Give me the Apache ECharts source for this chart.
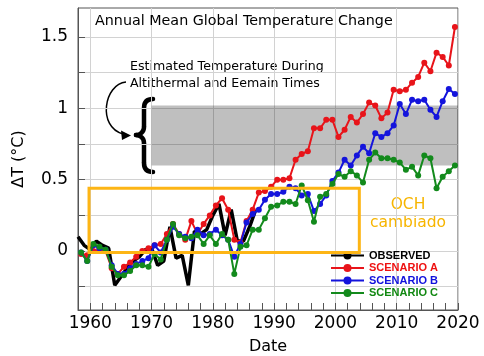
<!DOCTYPE html>
<html><head><meta charset="utf-8">
<script src="https://cdn.jsdelivr.net/npm/echarts@6/dist/echarts.min.js"></script>
<style>html,body{margin:0;padding:0;background:#fff}#c{width:484px;height:356px}</style>
</head><body><div id="c"></div>
<script>
// ---- data ----
const scenYears = [1958,1959,1960,1961,1962,1963,1964,1965,1966,1967,1968,1969,1970,1971,1972,1973,1974,1975,1976,1977,1978,1979,1980,1981,1982,1983,1984,1985,1986,1987,1988,1989,1990,1991,1992,1993,1994,1995,1996,1997,1998,1999,2000,2001,2002,2003,2004,2005,2006,2007,2008,2009,2010,2011,2012,2013,2014,2015,2016,2017,2018,2019];
const scenarioA = [-0.02,-0.03,0.00,0.01,0.00,-0.12,-0.16,-0.11,-0.08,-0.04,0.00,0.02,0.04,0.05,0.12,0.19,0.12,0.08,0.21,0.12,0.19,0.25,0.32,0.37,0.29,0.08,0.06,0.21,0.29,0.41,0.42,0.45,0.50,0.50,0.51,0.64,0.68,0.70,0.86,0.86,0.92,0.92,0.80,0.85,0.94,0.90,0.96,1.04,1.02,0.93,0.97,1.13,1.12,1.13,1.18,1.22,1.32,1.26,1.39,1.36,1.30,1.57];
const scenarioB = [-0.01,-0.07,0.04,0.02,0.01,-0.10,-0.16,-0.16,-0.12,-0.09,-0.07,-0.05,0.04,-0.01,0.08,0.17,0.12,0.10,0.09,0.15,0.11,0.12,0.15,0.11,0.08,-0.04,0.05,0.20,0.26,0.29,0.36,0.40,0.40,0.415,0.45,0.44,0.39,0.40,0.28,0.33,0.39,0.49,0.55,0.64,0.60,0.67,0.73,0.685,0.825,0.80,0.825,0.88,1.03,0.96,1.06,1.05,1.06,0.99,0.94,1.05,1.135,1.10];
const scenarioC = [-0.01,-0.07,0.05,0.03,0.01,-0.11,-0.17,-0.17,-0.14,-0.10,-0.10,-0.11,-0.02,-0.06,0.08,0.19,0.11,0.09,0.10,0.11,0.05,0.11,0.05,0.12,0.08,-0.16,0.03,0.04,0.15,0.15,0.23,0.31,0.32,0.345,0.345,0.33,0.46,0.356,0.205,0.38,0.40,0.47,0.54,0.52,0.56,0.53,0.48,0.64,0.69,0.65,0.65,0.64,0.62,0.57,0.59,0.53,0.67,0.65,0.44,0.52,0.56,0.60];
const obsYears = [1958,1959,1960,1961,1962,1963,1964,1965,1966,1967,1968,1969,1970,1971,1972,1973,1974,1975,1976,1977,1978,1979,1980,1981,1982,1983,1984,1985,1986,1987];
const observed = [0.10,0.04,0.01,0.07,0.04,0.02,-0.24,-0.18,-0.12,-0.07,-0.04,0.01,0.02,-0.10,-0.07,0.17,-0.05,-0.03,-0.24,0.14,0.12,0.15,0.25,0.33,0.11,0.29,0.07,0.07,0.17,0.29];
const xLabels = [1960,1970,1980,1990,2000,2010,2020];
const xTicks = [1960,1962,1964,1966,1968,1970,1972,1974,1976,1978,1980,1982,1984,1986,1988,1990,1992,1994,1996,1998,2000,2002,2004,2006,2008,2010,2012,2014,2016,2018,2020];
const yLabels = [0,0.5,1,1.5];
const yTicks = [-0.25,0,0.25,0.5,0.75,1,1.25,1.5];
const bandX = [1970,2020];      // estimated Altithermal/Eemian range
const bandY = [0.6,1.02];
const boxX = [1959.8,2003.9];   // OCH box
const boxY = [-0.01,0.44];
const seriesNames = ['OBSERVED','SCENARIO A','SCENARIO B','SCENARIO C'];
const seriesColors = ['#000000','#e8141a','#1414dc','#138a1c'];
const legendColors = ['#000000','#ee1111','#1111dd','#118811'];

// ---- chart ----
const FONT = 'DejaVu Sans';
const chart = echarts.init(document.getElementById('c'), null, {renderer:'canvas'});
const scen = (vals) => scenYears.map((y,i)=>[y+0.5, vals[i]]);
const scenSeries = (idx, vals) => ({
  name: seriesNames[idx], type:'line', data: scen(vals), xAxisIndex:0,
  symbol:'circle', symbolSize:6, showSymbol:true,
  lineStyle:{color:seriesColors[idx], width:2},
  itemStyle:{color:seriesColors[idx]},
  emphasis:{disabled:true}, z: 2 + idx
});
const option = {
  animation:false,
  backgroundColor:'#ffffff',
  title:{text:'Annual Mean Global Temperature Change', left:95, top:14, padding:0,
    textStyle:{fontFamily:FONT, fontSize:14.3, fontWeight:'normal', color:'#000'}},
  grid:{left:78, right:26, top:8, bottom:46, containLabel:false, outerBoundsMode:'none',
    show:true, borderColor:'#555', borderWidth:1, backgroundColor:'rgba(0,0,0,0)'},
  legend:{orient:'vertical', left:330, top:250, padding:0, itemWidth:33, itemHeight:10, itemGap:1.5,
    selectedMode:false,
    textStyle:{fontFamily:'Liberation Sans', fontWeight:'bold', fontSize:11},
    data: seriesNames.map((n,i)=>({name:n, textStyle:{color:legendColors[i]}}))},
  xAxis:[{
    type:'value', min:1958, max:2020,
    name:'Date', nameLocation:'middle', nameGap:29,
    nameTextStyle:{fontFamily:FONT, fontSize:16, color:'#000'},
    axisLine:{show:true, onZero:false, lineStyle:{color:'#555', width:1}},
    axisTick:{show:true, inside:true, length:7, customValues:xTicks, lineStyle:{color:'#555'}},
    axisLabel:{customValues:xLabels, formatter:(v)=>String(v), fontFamily:FONT, fontSize:17, color:'#000', margin:5},
    splitLine:{show:false}
  },{
    type:'value', min:1958, max:2020, position:'top',
    axisLine:{show:false}, axisTick:{show:false, customValues:xLabels}, axisLabel:{show:false},
    splitLine:{show:true, lineStyle:{color:'#d2d2d2', width:1}}
  }],
  yAxis:{
    type:'value', min:-0.413, max:1.703,
    name:'ΔT (°C)', nameLocation:'middle', nameGap:51,
    nameTextStyle:{fontFamily:FONT, fontSize:16, color:'#000'},
    axisLine:{show:true, onZero:false, lineStyle:{color:'#555', width:1}},
    axisTick:{show:true, inside:true, length:7, customValues:yTicks, lineStyle:{color:'#555'}},
    axisLabel:{customValues:yLabels, formatter:(v)=>String(v), fontFamily:FONT, fontSize:17, color:'#000', margin:10},
    splitLine:{show:true, lineStyle:{color:'#d2d2d2', width:1}}
  },
  series:[
    {name:'band', type:'line', data:[], xAxisIndex:0, silent:true,
      markArea:{silent:true, itemStyle:{color:'rgba(0,0,0,0.25)'},
        data:[[{xAxis:bandX[0], yAxis:bandY[1]},{xAxis:bandX[1], yAxis:bandY[0]}]]}},
    {name:seriesNames[0], type:'line', data: obsYears.map((y,i)=>[y, observed[i]]), xAxisIndex:0,
      symbol:'none', showSymbol:false, lineStyle:{color:'#000', width:3.5}, itemStyle:{color:'#000'},
      emphasis:{disabled:true}, z:2},
    scenSeries(1, scenarioA),
    scenSeries(2, scenarioB),
    scenSeries(3, scenarioC),
    {name:'box', type:'line', data:[], xAxisIndex:0, silent:true, z:10,
      markArea:{silent:true, z:10, itemStyle:{color:'rgba(0,0,0,0)', borderColor:'#fdb515', borderWidth:3},
        data:[[{xAxis:boxX[0], yAxis:boxY[1]},{xAxis:boxX[1], yAxis:boxY[0]}]]}}
  ],
  graphic:[
    {type:'text', left:130, top:58.5, silent:true,
      style:{text:'Estimated Temperature During\nAltithermal and Eemain Times', font:'12.6px "DejaVu Sans"', lineHeight:17, fill:'#000'}},
    {type:'text', x:408, y:196, silent:true,
      style:{text:'OCH\ncambiado', font:'15.5px "DejaVu Sans"', lineHeight:18, fill:'#f7b500', align:'center', verticalAlign:'top'}},
    // brace
    {type:'bezierCurve', silent:true, shape:{x1:153,y1:99,cpx1:147,cpy1:99,cpx2:144,cpy2:102,x2:144,y2:108}, style:{stroke:'#000', lineWidth:4.5, fill:null, lineCap:'round'}},
    {type:'line', silent:true, shape:{x1:144,y1:108,x2:144,y2:127}, style:{stroke:'#000', lineWidth:4.5}},
    {type:'bezierCurve', silent:true, shape:{x1:144,y1:127,cpx1:144,cpy1:132,cpx2:140,cpy2:135,x2:136,y2:135}, style:{stroke:'#000', lineWidth:4.5, fill:null, lineCap:'round'}},
    {type:'bezierCurve', silent:true, shape:{x1:136,y1:135,cpx1:140,cpy1:135,cpx2:144,cpy2:138,x2:144,y2:143}, style:{stroke:'#000', lineWidth:4.5, fill:null, lineCap:'round'}},
    {type:'line', silent:true, shape:{x1:144,y1:143,x2:144,y2:163}, style:{stroke:'#000', lineWidth:4.5}},
    {type:'bezierCurve', silent:true, shape:{x1:144,y1:163,cpx1:144,cpy1:169,cpx2:147,cpy2:172,x2:153,y2:172}, style:{stroke:'#000', lineWidth:4.5, fill:null, lineCap:'round'}},
    // curved arrow
    {type:'bezierCurve', silent:true, shape:{x1:126,y1:82,cpx1:104,cpy1:84,cpx2:97,cpy2:127,x2:123,y2:134}, style:{stroke:'#000', lineWidth:1.5, fill:null}},
    {type:'polygon', silent:true, shape:{points:[[131,135.5],[121,130.5],[122,140]]}, style:{fill:'#000'}}
  ]
};
chart.setOption(option);
</script>
</body></html>
